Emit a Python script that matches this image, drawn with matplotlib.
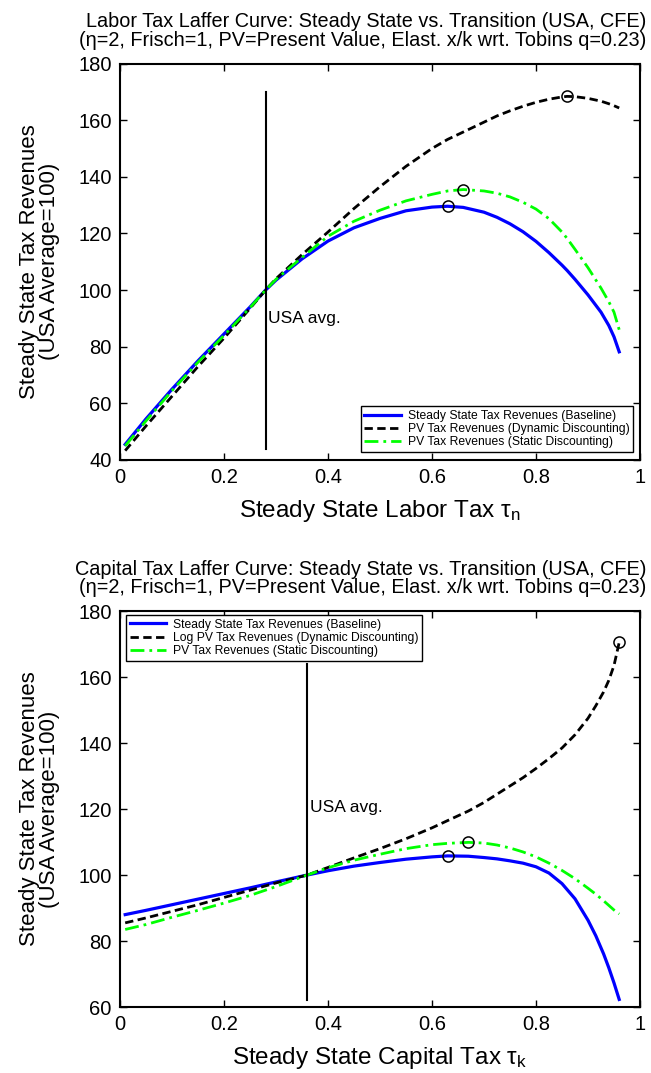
import matplotlib
matplotlib.use("Agg")
import matplotlib.pyplot as plt
from matplotlib.ticker import FuncFormatter
import numpy as np

plt.rcParams['font.family'] = ['Liberation Sans', 'DejaVu Sans']
plt.rcParams['mathtext.default'] = 'regular'

# labor tax grid and revenue series
tau_n = [0.01, 0.05, 0.10, 0.15, 0.20, 0.25, 0.28, 0.30, 0.35, 0.40, 0.45, 0.50,
         0.55, 0.60, 0.63, 0.66, 0.70, 0.725, 0.75, 0.775, 0.80, 0.825, 0.85, 0.86,
         0.875, 0.90, 0.925, 0.94, 0.95, 0.96]
labor_ss = [45.5, 54.5, 65.0, 75.0, 84.5, 94.0, 100.0, 103.5, 111.0, 117.3, 122.0, 125.3,
            128.0, 129.3, 129.6, 129.2, 127.5, 125.7, 123.4, 120.6, 117.2, 113.2, 108.8, 106.9,
            103.8, 98.3, 92.2, 87.5, 83.5, 78.2]
labor_pv_dyn = [43.3, 52.0, 62.5, 73.0, 83.0, 93.5, 100.0, 104.0, 112.5, 120.5, 128.8, 136.5,
                143.7, 150.0, 153.2, 155.8, 159.3, 161.5, 163.3, 164.9, 166.3, 167.4, 168.2, 168.4,
                168.3, 167.7, 166.7, 165.8, 165.1, 164.3]
labor_pv_stat = [45.0, 53.8, 64.5, 74.5, 84.0, 93.8, 100.0, 103.8, 111.5, 119.0, 124.3, 128.2,
                 131.5, 133.8, 135.0, 135.5, 135.0, 134.2, 132.9, 131.0, 128.6, 125.2, 120.5, 118.2,
                 114.4, 107.9, 100.7, 95.9, 92.2, 86.0]
labor_usa = 0.28
labor_line = [44, 170]

# capital tax grid and revenue series
tau_k = [0.01, 0.05, 0.10, 0.15, 0.20, 0.25, 0.30, 0.36, 0.40, 0.45, 0.50, 0.55,
         0.60, 0.63, 0.67, 0.70, 0.725, 0.75, 0.775, 0.80, 0.825, 0.85, 0.875, 0.90,
         0.915, 0.93, 0.94, 0.95, 0.96]
cap_ss = [88.0, 89.3, 91.0, 92.7, 94.4, 96.1, 97.9, 100.0, 101.3, 102.7, 103.8, 104.8,
          105.5, 105.8, 105.7, 105.3, 104.9, 104.3, 103.6, 102.5, 100.6, 97.4, 92.8, 86.3,
          81.6, 76.1, 71.9, 67.3, 62.3]
cap_pv_dyn = [85.5, 87.0, 89.0, 91.0, 93.2, 95.4, 97.6, 100.0, 102.3, 105.2, 108.0, 111.0,
              114.3, 116.5, 119.4, 122.0, 124.5, 127.0, 129.5, 132.3, 135.3, 138.5, 142.5, 147.5,
              151.3, 155.5, 159.0, 163.5, 170.5]
cap_pv_stat = [83.5, 85.0, 87.2, 89.3, 91.5, 93.8, 96.5, 100.0, 102.2, 104.5, 106.3, 108.0,
               109.2, 109.6, 109.9, 109.7, 109.1, 108.2, 107.0, 105.5, 103.6, 101.4, 98.9, 96.0,
               94.2, 92.2, 90.8, 89.4, 88.2]
cap_usa = 0.36
cap_line = [62, 164]

subtitle = '(\u03b7=2, Frisch=1, PV=Present Value, Elast. x/k wrt. Tobins q=0.23)'
panels = [
    dict(x=tau_n, series=[labor_ss, labor_pv_dyn, labor_pv_stat],
         labels=['Steady State Tax Revenues (Baseline)',
                 'PV Tax Revenues (Dynamic Discounting)',
                 'PV Tax Revenues (Static Discounting)'],
         usa=labor_usa, vline=labor_line, usa_y=90, ylim=(40, 180),
         title='Labor Tax Laffer Curve: Steady State vs. Transition (USA, CFE)',
         xlabel=r'Steady State Labor Tax $\tau_n$',
         leg=dict(loc='lower right', bbox_to_anchor=(0.987, 0.02))),
    dict(x=tau_k, series=[cap_ss, cap_pv_dyn, cap_pv_stat],
         labels=['Steady State Tax Revenues (Baseline)',
                 'Log PV Tax Revenues (Dynamic Discounting)',
                 'PV Tax Revenues (Static Discounting)'],
         usa=cap_usa, vline=cap_line, usa_y=120.5, ylim=(60, 180),
         title='Capital Tax Laffer Curve: Steady State vs. Transition (USA, CFE)',
         xlabel=r'Steady State Capital Tax $\tau_k$',
         leg=dict(loc='upper left', bbox_to_anchor=(0.0115, 0.99))),
]

styles = [dict(color=(0, 0, 1), ls='-', lw=2.3),
          dict(color='black', ls=(0, (3.0, 1.6)), lw=2.0),
          dict(color=(0, 1, 0), ls=(0, (5.0, 1.8, 1.0, 1.8)), lw=2.0)]

fig = plt.figure(figsize=(6.51, 10.73), dpi=100)
axes = [fig.add_axes([0.1843, 0.5713, 0.7988, 0.3695]),
        fig.add_axes([0.1843, 0.0615, 0.7988, 0.3690])]

for ax, p in zip(axes, panels):
    for ys, lab, st in zip(p['series'], p['labels'], styles):
        ax.plot(p['x'], ys, label=lab, **st)
    # circle at the maximum of each curve
    for ys in p['series']:
        i = int(np.argmax(ys))
        ax.plot(p['x'][i], ys[i], 'o', mfc='none', mec='black', ms=8, mew=1.1)
    ax.plot([p['usa'], p['usa']], p['vline'], color='black', lw=1.5)
    ax.text(p['usa'] + 0.005, p['usa_y'], 'USA avg.', fontsize=12.5,
            ha='left', va='center')

    ax.set_xlim(0, 1)
    ax.set_ylim(*p['ylim'])
    ax.set_xticks(np.arange(0, 1.01, 0.2))
    ax.set_yticks(np.arange(p['ylim'][0], 181, 20))
    ax.xaxis.set_major_formatter(FuncFormatter(lambda v, _: '%g' % round(v, 2)))
    ax.tick_params(direction='in', top=True, right=True, length=5, width=1,
                   labelsize=14.5, pad=6)
    for s in ax.spines.values():
        s.set_linewidth(1.5)

    ax.set_xlabel(p['xlabel'], fontsize=17.5)
    ax.xaxis.set_label_coords(0.5, -0.097)
    ax.set_ylabel('Steady State Tax Revenues\n(USA Average=100)', fontsize=16,
                  linespacing=0.95)
    ax.yaxis.set_label_coords(-0.115, 0.5)
    ax.text(1.012, 1.035, p['title'] + '\n' + subtitle, transform=ax.transAxes,
            ha='right', va='bottom', fontsize=14.3, multialignment='right',
            linespacing=0.98)

    leg = ax.legend(fontsize=8.7, frameon=True, fancybox=False, framealpha=1,
                    edgecolor='black', borderaxespad=0, handlelength=3.0,
                    handletextpad=0.6, labelspacing=0.1, borderpad=0.3,
                    **p['leg'])
    leg.get_frame().set_linewidth(1.0)

fig.savefig('out.png', dpi=100)
